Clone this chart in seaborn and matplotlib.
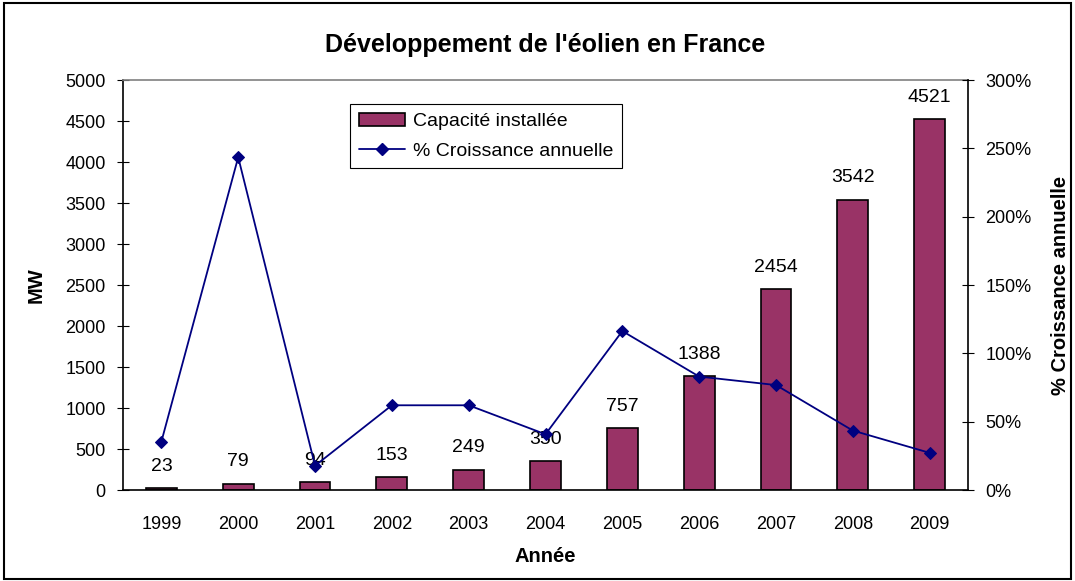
import matplotlib
matplotlib.use("Agg")
import matplotlib.pyplot as plt
import seaborn as sns
import pandas as pd
from matplotlib.patches import Rectangle, Patch
from matplotlib.lines import Line2D
from matplotlib.ticker import FuncFormatter, MultipleLocator

# data
annees = ["1999", "2000", "2001", "2002", "2003", "2004", "2005", "2006", "2007", "2008", "2009"]
capacite = [23, 79, 94, 153, 249, 350, 757, 1388, 2454, 3542, 4521]
croissance = [35.4, 243.5, 17.8, 62.0, 62.0, 40.8, 116.3, 83.0, 76.8, 43.5, 27.2]

df = pd.DataFrame({"Année": annees, "MW": capacite, "Croissance": croissance})

sns.set_style("white")
plt.rcParams["font.family"] = ["Liberation Sans", "DejaVu Sans"]
plt.rcParams.update({"text.color": "black", "axes.labelcolor": "black",
                     "xtick.color": "black", "ytick.color": "black"})

fig = plt.figure(figsize=(10.75, 5.81), dpi=100)
ax = fig.add_axes([0.1144, 0.1566, 0.7861, 0.7057])

sns.barplot(data=df, x="Année", y="MW", color="#993366", width=0.4,
            edgecolor="black", linewidth=1.2, saturation=1, ax=ax)

for i, v in enumerate(capacite):
    ax.text(i, v + 160, str(v), ha="center", va="bottom", fontsize=14)

ax.set_ylim(0, 5000)
ax.set_xlim(-0.5, 10.5)
ax.yaxis.set_major_locator(MultipleLocator(500))
ax.set_xticks(range(len(annees)))
ax.set_xticks([i - 0.5 for i in range(len(annees) + 1)], minor=True)
ax.tick_params(axis="x", which="major", length=0, labelsize=13, pad=19)
ax.tick_params(axis="x", which="minor", length=9, direction="inout")
ax.tick_params(axis="y", length=9, direction="inout", labelsize=13, pad=8)
ax.set_xlabel("Année", fontsize=14.5, fontweight="bold", labelpad=10)
ax.set_ylabel("MW", fontsize=14.5, fontweight="bold", labelpad=14)
for side in ["left", "bottom"]:
    ax.spines[side].set_color("black")
    ax.spines[side].set_linewidth(1.2)
ax.spines["top"].set_color("#808080")
ax.spines["top"].set_linewidth(1.2)
ax.spines["right"].set_visible(False)

ax2 = ax.twinx()
sns.lineplot(x=range(len(annees)), y=croissance, color="#000080", marker="D",
             markersize=6, markeredgecolor="#000080", linewidth=1.3, ax=ax2)
ax2.set_ylim(0, 300)
ax2.yaxis.set_major_locator(MultipleLocator(50))
ax2.yaxis.set_major_formatter(FuncFormatter(lambda v, p: f"{int(v)}%"))
ax2.tick_params(axis="y", length=9, direction="inout", labelsize=13, pad=8)
ax2.set_ylabel("% Croissance annuelle", fontsize=14.5, fontweight="bold", labelpad=14)
for side in ["left", "bottom", "top"]:
    ax2.spines[side].set_visible(False)
ax2.spines["right"].set_color("black")
ax2.spines["right"].set_linewidth(1.2)

ax.set_title("Développement de l'éolien en France", fontsize=18, fontweight="bold", pad=20)

handles = [Patch(facecolor="#993366", edgecolor="black", linewidth=1.2),
           Line2D([0], [0], color="#000080", marker="D", markersize=6, linewidth=1.3)]
leg = ax2.legend(handles, ["Capacité installée", "% Croissance annuelle"],
                 loc="upper left", bbox_to_anchor=(0.2686, 0.9415), borderaxespad=0,
                 fontsize=14, frameon=True, fancybox=False, edgecolor="black",
                 framealpha=1, handlelength=2.4, handletextpad=0.4,
                 borderpad=0.45, labelspacing=0.6)
leg.get_frame().set_linewidth(0.8)

fig.patches.append(Rectangle((0.004, 0.004), 0.992, 0.99, transform=fig.transFigure,
                             fill=False, edgecolor="black", linewidth=1.5))

fig.savefig("out.png", dpi=100)
